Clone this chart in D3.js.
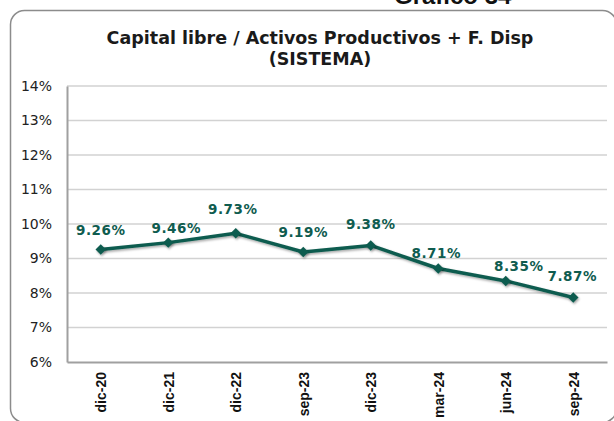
<!DOCTYPE html>
<html>
<head>
<meta charset="utf-8">
<script src="https://cdn.jsdelivr.net/npm/d3@7"></script>
<style>
  body { margin: 0; background: #fff; }
  svg { display: block; }
</style>
</head>
<body>
<div id="chart"></div>
<script>
// categories and values
var periods = ["dic-20", "dic-21", "dic-22", "sep-23", "dic-23", "mar-24", "jun-24", "sep-24"];
var ratios = [9.26, 9.46, 9.73, 9.19, 9.38, 8.71, 8.35, 7.87];
var yTicks = [6, 7, 8, 9, 10, 11, 12, 13, 14];

// nudges of the data labels, as placed in the original
var labelDx = [0, 8, -3, 0, 0, -2, 13, -1];
var labelDy = [-15, -10, -19, -15, -16, -11, -10, -16];

var W = 614, H = 421;
var margin = {top: 86, right: 7, bottom: 59, left: 67};
var width = W - margin.left - margin.right,
    height = H - margin.top - margin.bottom;
var teal = "#0f5c4f";

var svg = d3.select("#chart")
  .append("svg")
    .attr("width", W)
    .attr("height", H);

// rounded frame of the chart object
svg.append("rect")
  .attr("x", 10.5)
  .attr("y", 10.5)
  .attr("width", 606)
  .attr("height", 412)
  .attr("rx", 14)
  .attr("fill", "#fff")
  .attr("stroke", "#8c8c8c")
  .attr("stroke-width", 1.5);

// page caption, cut by the top of the picture as in the original
svg.append("text")
  .attr("x", 394)
  .attr("y", 4)
  .style("font-family", "Liberation Sans, Arial, sans-serif")
  .style("font-weight", "bold")
  .style("font-size", "24px")
  .attr("fill", "#111")
  .text("Gráfico 34");

var title = svg.append("text")
  .attr("x", 320)
  .attr("text-anchor", "middle")
  .style("font-family", "DejaVu Sans, sans-serif")
  .style("font-weight", "bold")
  .style("font-size", "17.5px")
  .attr("fill", "#1a1a1a");
title.append("tspan").attr("x", 320).attr("y", 44).text("Capital libre / Activos Productivos + F. Disp");
title.append("tspan").attr("x", 320).attr("y", 65).text("(SISTEMA)");

var g = svg.append("g")
  .attr("transform", "translate(" + margin.left + "," + margin.top + ")");

var x = d3.scalePoint()
  .domain(periods)
  .range([0, width])
  .padding(0.5);

var y = d3.scaleLinear()
  .domain([6, 14])
  .range([height, 0]);

// gridlines
g.append("g")
  .selectAll("line")
  .data(yTicks.slice(1))
  .enter()
  .append("line")
    .attr("x1", 0)
    .attr("x2", width)
    .attr("y1", function(d) { return y(d); })
    .attr("y2", function(d) { return y(d); })
    .attr("stroke", "#d2d2d2")
    .attr("stroke-width", 1.5);

// y axis
var yAxis = g.append("g")
  .call(d3.axisLeft(y).tickValues(yTicks).tickSize(0).tickPadding(15)
    .tickFormat(function(d) { return d + "%"; }));
yAxis.select(".domain").attr("stroke", "#a0a0a0").attr("stroke-width", 2);
yAxis.selectAll("text")
  .style("font-family", "DejaVu Sans, sans-serif")
  .style("font-size", "14px")
  .attr("fill", "#222");

// x axis
var xAxis = g.append("g")
  .attr("transform", "translate(0," + height + ")")
  .call(d3.axisBottom(x).tickSize(0).tickSizeOuter(0));
xAxis.select(".domain").attr("stroke", "#a0a0a0").attr("stroke-width", 2);
xAxis.selectAll("text")
  .attr("transform", "rotate(-90)")
  .attr("text-anchor", "end")
  .attr("x", -10)
  .attr("y", 0)
  .attr("dy", "0.35em")
  .style("font-family", "Liberation Sans, Arial, sans-serif")
  .style("font-weight", "bold")
  .style("font-size", "14px")
  .attr("fill", "#111");

var rows = periods.map(function(p, i) { return {period: p, value: ratios[i], i: i}; });

var defs = svg.append("defs");
var shadow = defs.append("filter").attr("id", "shadow").attr("x", "-50%").attr("y", "-50%").attr("width", "200%").attr("height", "200%");
shadow.append("feDropShadow").attr("dx", 1).attr("dy", 1.5).attr("stdDeviation", 1).attr("flood-color", "#000").attr("flood-opacity", 0.35);

// the line
g.append("path")
  .datum(rows)
  .attr("fill", "none")
  .attr("stroke", teal)
  .attr("stroke-width", 3.5)
  .attr("stroke-linejoin", "round")
  .attr("filter", "url(#shadow)")
  .attr("d", d3.line()
    .x(function(d) { return x(d.period); })
    .y(function(d) { return y(d.value); }));

// diamond markers
g.selectAll(".marker")
  .data(rows)
  .enter()
  .append("path")
    .attr("class", "marker")
    .attr("d", d3.symbol().type(d3.symbolDiamond2).size(70))
    .attr("transform", function(d) { return "translate(" + x(d.period) + "," + y(d.value) + ")"; })
    .attr("fill", teal)
    .attr("filter", "url(#shadow)");

// data labels
g.selectAll(".label")
  .data(rows)
  .enter()
  .append("text")
    .attr("class", "label")
    .attr("x", function(d) { return x(d.period) + labelDx[d.i]; })
    .attr("y", function(d) { return y(d.value) + labelDy[d.i]; })
    .attr("text-anchor", "middle")
    .style("font-family", "DejaVu Sans, sans-serif")
    .style("font-weight", "bold")
    .style("font-size", "13.5px")
    .style("letter-spacing", "0.5px")
    .attr("fill", teal)
    .text(function(d) { return d.value.toFixed(2) + "%"; });
</script>
</body>
</html>
